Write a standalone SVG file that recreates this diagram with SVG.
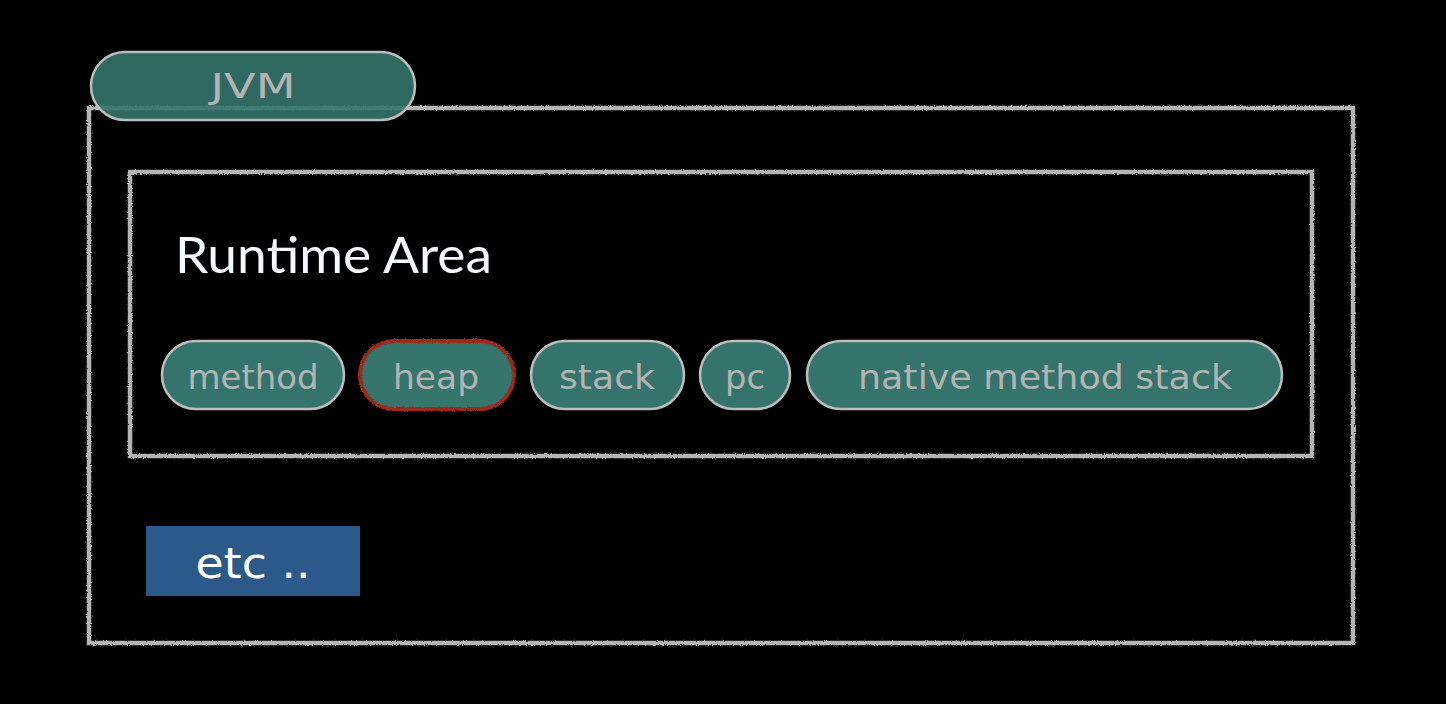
<svg xmlns="http://www.w3.org/2000/svg" width="1446" height="704" viewBox="0 0 1446 704">
<defs>
<filter id="rough" x="-5%" y="-5%" width="110%" height="110%">
<feTurbulence type="fractalNoise" baseFrequency="0.9" numOctaves="2" seed="3" result="n"/>
<feDisplacementMap in="SourceGraphic" in2="n" scale="3" xChannelSelector="R" yChannelSelector="G"/>
</filter>
</defs>
<style>
.frame{fill:none;stroke:#b4b4b4;stroke-width:4.5;filter:url(#rough)}
.pill{fill:#35746c;stroke:#bdbdbd;stroke-width:2.5}
.pill.red{stroke:#9a2a1e;stroke-width:4;filter:url(#rough)}
.pt{font-family:"DejaVu Sans","Noto Sans",sans-serif;font-size:34px;fill:#b3b3b3;text-anchor:middle;dominant-baseline:central}
</style>
<rect width="1446" height="704" fill="#000"/>
<g id="jvm-frame">
<rect class="frame" x="89" y="108" width="1264" height="535"/>
</g>
<g id="jvm-label">
<rect x="91" y="52" width="324" height="68" rx="34" fill="#35746c" fill-opacity="0.9" stroke="#bdbdbd" stroke-width="2.5"/>
<text class="pt" x="253" y="86" textLength="85" lengthAdjust="spacingAndGlyphs">JVM</text>
</g>
<g id="runtime-area">
<rect class="frame" x="130" y="172" width="1182" height="284"/>
<text x="175" y="273" font-family="Lato,'Open Sans',sans-serif" font-size="50" fill="#f4f8fc" textLength="317" lengthAdjust="spacingAndGlyphs">Runtime Area</text>
</g>
<g id="method">
<rect class="pill" x="162" y="341" width="182" height="68" rx="34"/>
<text class="pt" x="253" y="377" textLength="131" lengthAdjust="spacingAndGlyphs">method</text>
</g>
<g id="heap">
<rect class="pill red" x="360" y="341" width="154" height="68" rx="34"/>
<text class="pt" x="436" y="377" textLength="86" lengthAdjust="spacingAndGlyphs">heap</text>
</g>
<g id="stack">
<rect class="pill" x="531" y="341" width="153" height="68" rx="34"/>
<text class="pt" x="607" y="377" textLength="96" lengthAdjust="spacingAndGlyphs">stack</text>
</g>
<g id="pc">
<rect class="pill" x="700" y="341" width="90" height="68" rx="34"/>
<text class="pt" x="745" y="377" textLength="40" lengthAdjust="spacingAndGlyphs">pc</text>
</g>
<g id="native-method-stack">
<rect class="pill" x="807" y="341" width="475" height="68" rx="34"/>
<text class="pt" x="1045" y="377" textLength="374" lengthAdjust="spacingAndGlyphs">native method stack</text>
</g>
<g id="etc">
<rect x="146" y="526" width="214" height="70" fill="#2b5a8a"/>
<text x="253" y="563" font-family="'DejaVu Sans','Noto Sans',sans-serif" font-size="42" fill="#ffffff" text-anchor="middle" dominant-baseline="central" textLength="115" lengthAdjust="spacingAndGlyphs">etc ..</text>
</g>
<g id="connectors"/>
</svg>
